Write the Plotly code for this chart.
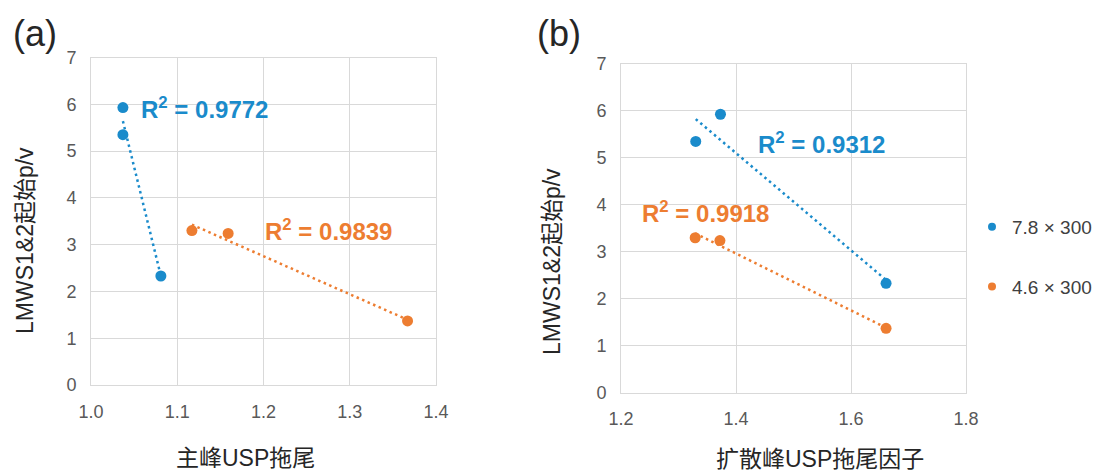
import numpy as np
import plotly.graph_objects as go

# ---------------- data ----------------
series_names = ["7.8 × 300", "4.6 × 300"]
y_blue = [5.93, 5.35, 2.33]
y_orange = [3.30, 3.24, 1.37]
xa_blue = [1.037, 1.037, 1.081]
xa_orange = [1.117, 1.159, 1.367]
xb_blue = [1.373, 1.330, 1.661]
xb_orange = [1.329, 1.372, 1.661]
r2_a = ["0.9772", "0.9839"]
r2_b = ["0.9312", "0.9918"]
xa_ticks = [1.0, 1.1, 1.2, 1.3, 1.4]
xb_ticks = [1.2, 1.4, 1.6, 1.8]
y_ticks = [0, 1, 2, 3, 4, 5, 6, 7]
xa_title = "主峰USP拖尾"
xb_title = "扩散峰USP拖尾因子"
y_title = "LMWS1&2起始p/v"

BLUE = "#1A8BCB"
ORANGE = "#ED7D31"
GRID = "#D9D9D9"
TICK = "#595959"
FONT = "Liberation Sans, Arial, Noto Sans CJK SC, sans-serif"

W, H = 1105, 472


def px_x(p):
    return p / W


def px_y(p):
    return 1 - p / H


fig = go.Figure()


def add_series(xs, ys, color, xaxis, yaxis):
    fig.add_trace(go.Scatter(
        x=xs, y=ys, mode="markers", xaxis=xaxis, yaxis=yaxis,
        marker=dict(color=color, size=11), showlegend=False, hoverinfo="x+y"))
    k, b = np.polyfit(xs, ys, 1)
    xl = [min(xs), max(xs)]
    fig.add_trace(go.Scatter(
        x=xl, y=[k * v + b for v in xl], mode="lines", xaxis=xaxis, yaxis=yaxis,
        line=dict(color=color, width=2.5, dash="2.5px,3.5px"),
        showlegend=False, hoverinfo="skip"))


add_series(xa_blue, y_blue, BLUE, "x", "y")
add_series(xa_orange, y_orange, ORANGE, "x", "y")
add_series(xb_blue, y_blue, BLUE, "x2", "y2")
add_series(xb_orange, y_orange, ORANGE, "x2", "y2")

# legend entries
for name, color in zip(series_names, [BLUE, ORANGE]):
    fig.add_trace(go.Scatter(
        x=[None], y=[None], mode="markers", name=name, legendgroup=name,
        marker=dict(color=color, size=8), xaxis="x2", yaxis="y2"))

axis_common = dict(
    showgrid=True, gridcolor=GRID, gridwidth=1,
    showline=True, linecolor=GRID, linewidth=1, mirror=True,
    zeroline=False, ticks="outside", ticklen=10, tickcolor="rgba(0,0,0,0)",
    tickfont=dict(family=FONT, size=18, color=TICK),
    fixedrange=True, automargin=False,
)

fig.update_layout(
    width=W, height=H,
    margin=dict(l=0, r=0, t=0, b=0, autoexpand=False),
    paper_bgcolor="white", plot_bgcolor="white",
    font=dict(family=FONT, color=TICK),
    xaxis=dict(domain=[px_x(91), px_x(436)], range=[1.0, 1.4], tickvals=xa_ticks,
               tickformat=".1f", anchor="y", **axis_common),
    yaxis=dict(domain=[px_y(385), px_y(57.5)], range=[0, 7], tickvals=y_ticks,
               anchor="x", **axis_common),
    xaxis2=dict(domain=[px_x(621), px_x(966)], range=[1.2, 1.8], tickvals=xb_ticks,
                tickformat=".1f", anchor="y2", **axis_common),
    yaxis2=dict(domain=[px_y(392.7), px_y(64)], range=[0, 7], tickvals=y_ticks,
                anchor="x2", **axis_common),
    legend=dict(x=px_x(972), y=px_y(208), xanchor="left", yanchor="top",
                font=dict(family=FONT, size=19, color="#404040"),
                tracegroupgap=32, traceorder="grouped", bgcolor="rgba(0,0,0,0)"),
    showlegend=True,
)


def paper_text(text, xp, yp, font, angle=0):
    return dict(text=text, x=px_x(xp), y=px_y(yp), xref="paper", yref="paper",
                xanchor="center", yanchor="middle", showarrow=False,
                textangle=angle, font=font)


ann = []
label_font = dict(family=FONT, size=36, color="#262626")
ann.append(paper_text("(a)", 35, 33, label_font))
ann.append(paper_text("(b)", 559, 33, label_font))
title_font = dict(family=FONT, size=23, color="#262626")
ann.append(paper_text(xa_title, 245, 458, title_font))
ann.append(paper_text(xb_title, 820, 459, title_font))
ann.append(paper_text(y_title, 25, 241, title_font, -90))
ann.append(paper_text(y_title, 552, 262, title_font, -90))
# R^2 labels
r2_font = dict(family=FONT, size=24)
ann.append(dict(text="<b>R<sup>2</sup> = %s</b>" % r2_a[0], x=1.0556, y=5.92, xref="x", yref="y",
                xanchor="left", showarrow=False, font=dict(r2_font, color=BLUE)))
ann.append(dict(text="<b>R<sup>2</sup> = %s</b>" % r2_a[1], x=1.199, y=3.31, xref="x", yref="y",
                xanchor="left", showarrow=False, font=dict(r2_font, color=ORANGE)))
ann.append(dict(text="<b>R<sup>2</sup> = %s</b>" % r2_b[0], x=1.434, y=5.32, xref="x2", yref="y2",
                xanchor="left", showarrow=False, font=dict(r2_font, color=BLUE)))
ann.append(dict(text="<b>R<sup>2</sup> = %s</b>" % r2_b[1], x=1.233, y=3.855, xref="x2", yref="y2",
                xanchor="left", showarrow=False, font=dict(r2_font, color=ORANGE)))
fig.update_layout(annotations=ann)

fig.write_html("out.html")
